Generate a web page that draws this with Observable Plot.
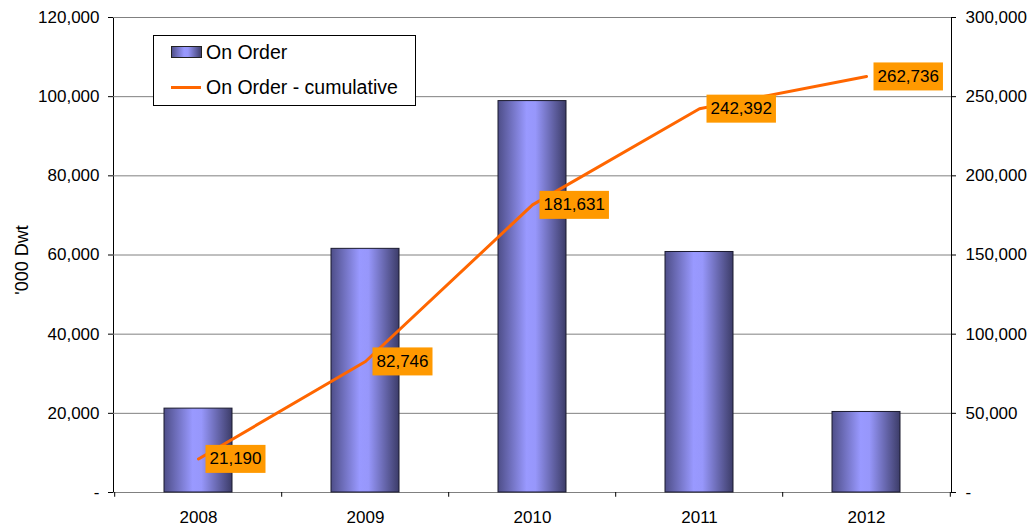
<!DOCTYPE html>
<html><head><meta charset="utf-8">
<script src="https://cdn.jsdelivr.net/npm/d3@7"></script>
<script src="https://cdn.jsdelivr.net/npm/@observablehq/plot@0.6"></script>
<style>
html,body{margin:0;padding:0;background:#fff;}
#wrap{position:relative;width:1032px;height:526px;font-family:"Liberation Sans",Arial,sans-serif;}
#legend{position:absolute;left:153px;top:35px;}
</style></head><body>
<div id="wrap"><div id="chart"></div>
<svg id="legend" width="264" height="72" font-family="Liberation Sans, Arial, sans-serif" font-size="19.5">
  <defs>
    <linearGradient id="legGrad" x1="0" x2="1" y1="0" y2="0">
      <stop offset="0" stop-color="#4e4e88"/>
      <stop offset="0.42" stop-color="#9999ff"/>
      <stop offset="0.55" stop-color="#9797fb"/>
      <stop offset="1" stop-color="#3c3c68"/>
    </linearGradient>
  </defs>
  <rect x="0.5" y="0.5" width="262" height="70" fill="#fff" stroke="#000"/>
  <rect x="18.5" y="11.5" width="30" height="11" fill="url(#legGrad)" stroke="#222"/>
  <text x="53" y="24" id="leg1"></text>
  <line x1="18" x2="48" y1="52.5" y2="52.5" stroke="#FF6600" stroke-width="3"/>
  <text x="53" y="59" id="leg2"></text>
</svg>
</div>
<script>
const years = ["2008", "2009", "2010", "2011", "2012"];
const onOrder = [21190, 61556, 98885, 60761, 20344];
const cumulative = [21190, 82746, 181631, 242392, 262736];
const leftTicks = [0, 20000, 40000, 60000, 80000, 100000, 120000];
const rightTicks = [0, 50000, 100000, 150000, 200000, 250000, 300000];
const seriesNames = ["On Order", "On Order - cumulative"];
const yLabel = "'000 Dwt";
const ratio = 2.5; // right axis / left axis

document.getElementById("leg1").textContent = seriesNames[0];
document.getElementById("leg2").textContent = seriesNames[1];

const data = years.map((y, i) => ({year: y, onOrder: onOrder[i], cumulative: cumulative[i]}));
const fmt = d3.format(",");
const W = 1032, H = 526, mL = 113, mR = 81, mT = 17, mB = 34;
const step = (W - mL - mR) / years.length;

const chart = Plot.plot({
  width: W, height: H,
  marginLeft: mL, marginRight: mR, marginTop: mT, marginBottom: mB,
  style: {fontFamily: "Liberation Sans, Arial, sans-serif", fontSize: "17px", color: "#000", background: "#fff", overflow: "visible"},
  x: {domain: years, paddingInner: 0.59, paddingOuter: 0.295},
  y: {domain: [0, 120000]},
  marks: [
    Plot.frame({stroke: "#000"}),
    Plot.ruleY(leftTicks, {stroke: "#808080", strokeWidth: 1}),
    Plot.barY(data, {x: "year", y: "onOrder", fill: "url(#barGrad)", stroke: "#1a1a2e", strokeWidth: 1}),
    Plot.line(data, {x: "year", y: d => d.cumulative / ratio, stroke: "#FF6600", strokeWidth: 3}),
    Plot.text(data, {x: "year", y: d => d.cumulative / ratio, text: d => fmt(d.cumulative), textAnchor: "start", dx: 11, fill: "#000", className: "cumlabel"}),
    Plot.axisY({ticks: leftTicks, tickFormat: d => d === 0 ? "-" : fmt(d), tickSize: 5, tickPadding: 9, label: null}),
    Plot.text([yLabel], {frameAnchor: "left", textAnchor: "middle", rotate: -90, dx: -91, dy: 5, fontSize: 18, fill: "#000"}),
    Plot.axisY({anchor: "right", ticks: rightTicks.map(d => d / ratio), tickFormat: d => d === 0 ? "-" : fmt(d * ratio), tickSize: 4, tickPadding: 10, label: null}),
    Plot.axisX({tickSize: 0, tickPadding: 18, label: null}),
    Plot.ruleX(years, {x: d => d, y1: 0, y2: -1200, dx: -step / 2, stroke: "#000"}),
    Plot.ruleX(years.slice(-1), {x: d => d, y1: 0, y2: -1200, dx: step / 2, stroke: "#000"})
  ]
});

document.getElementById("chart").append(chart);

// gradient for bars
const svg = d3.select(chart.tagName.toLowerCase() === "svg" ? chart : chart.querySelector("svg"));
const defs = svg.insert("defs", ":first-child");
const g = defs.append("linearGradient").attr("id", "barGrad").attr("x1", 0).attr("x2", 1).attr("y1", 0).attr("y2", 0);
g.append("stop").attr("offset", 0).attr("stop-color", "#4e4e88");
g.append("stop").attr("offset", 0.42).attr("stop-color", "#9999ff");
g.append("stop").attr("offset", 0.55).attr("stop-color", "#9797fb");
g.append("stop").attr("offset", 1).attr("stop-color", "#3c3c68");

// orange boxes behind cumulative labels
svg.selectAll("g.cumlabel text").each(function() {
  const b = this.getBBox();
  const r = document.createElementNS("http://www.w3.org/2000/svg", "rect");
  r.setAttribute("x", b.x - 4);
  r.setAttribute("y", b.y - 4.5);
  r.setAttribute("width", b.width + 8);
  r.setAttribute("height", b.height + 9);
  r.setAttribute("fill", "#FF9900");
  const t = this.getAttribute("transform");
  if (t) r.setAttribute("transform", t);
  this.parentNode.insertBefore(r, this);
});
</script>
</body></html>
